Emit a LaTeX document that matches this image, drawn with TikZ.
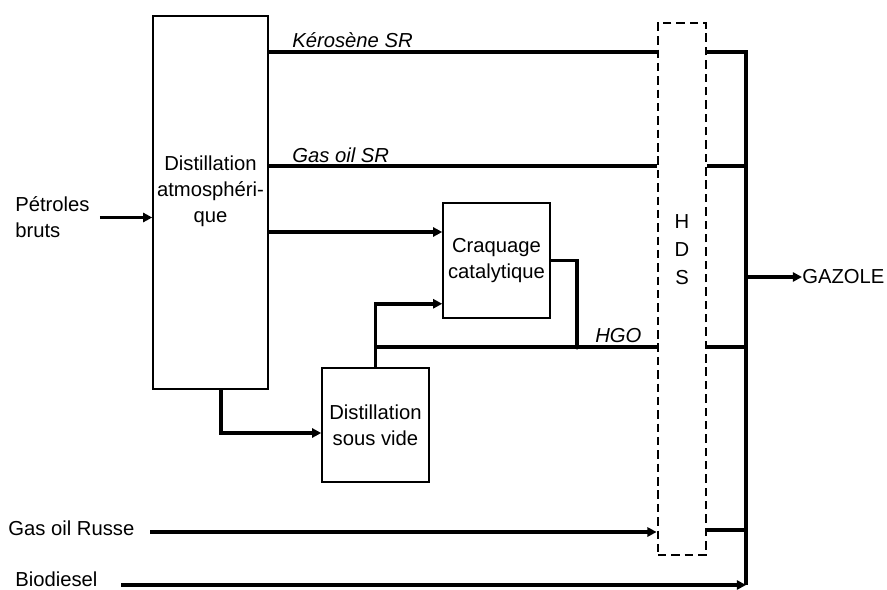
\documentclass[tikz,border=0pt]{standalone}
\usepackage{fontspec}
\setmainfont{Liberation Sans}
\usetikzlibrary{arrows.meta}

\begin{document}
\begin{tikzpicture}[x=0.025cm,y=-0.025cm,
	every node/.style={font=\fontsize{14.4}{18.5}\selectfont,inner sep=0pt},
	box/.style={draw,line width=1.1pt,align=center},
	flow/.style={line width=2.5pt},
	tip/.style={-{Triangle[length=6.5pt,width=6.5pt]}},
	lbl/.style={anchor=base west,font=\fontsize{14.4}{18.5}\selectfont\itshape}]
	\useasboundingbox (0,0) rectangle (887,590);
	% les unites
	\node[box,minimum width=115*0.025cm,minimum height=373*0.025cm] (atm) at (210.5,202.5) {};
	\node[align=center] (atmtxt) at (210.5,191) {Distillation\\atmosphéri-\\que};
	\node[box,minimum width=107*0.025cm,minimum height=115*0.025cm] (cc) at (496.5,260.5) {Craquage\\catalytique};
	\node[box,minimum width=107*0.025cm,minimum height=114*0.025cm] (sv) at (375.5,425) {Distillation\\sous vide};
	\node[draw,line width=2pt,dash pattern=on 6pt off 3.5pt,minimum width=48*0.025cm,minimum height=532*0.025cm] (hds) at (682,289) {};
	\node[align=center] (hdstxt) at (682,250) {H\\[1.5pt]D\\[1.5pt]S};
	% les entrees et la sortie
	\node[anchor=west,align=left] (pb) at (15,217.5) {Pétroles\\bruts};
	\node[anchor=west] (russe) at (8,528) {Gas oil Russe};
	\node[anchor=west] (bio) at (15,579) {Biodiesel};
	\node[anchor=west] (gaz) at (802,277) {GAZOLE};
	\coordinate (russein) at (150,532);
	\coordinate (bioin) at (121,585);
	\coordinate (coltop) at (746,52);
	\coordinate (colbot) at (746,585);
	\coordinate (hgo) at (577,347);
	% les flux
	\draw[flow,tip] (pb.east) ++(10,0) -- (atm.west |- pb.east);
	\draw[flow] (atm.east |- coltop) -- (hds.west |- coltop);
	\draw[flow] (atm.east |- 0,166) -- (hds.west |- 0,166);
	\draw[flow,tip] (atm.east |- 0,232) -- (cc.west |- 0,232);
	\draw[flow,tip] ([xshift=0.26cm]atm.south) |- ([yshift=-0.2cm]sv.west);
	\draw[flow,tip] (sv.north) |- ([yshift=0.375cm]cc.south west);
	\draw[flow] (sv.north |- hgo) -- (hds.west |- hgo);
	\draw[flow] (cc.east) -| (hgo);
	\fill (hgo) circle (2.5);
	\draw[flow,tip] (russein) -- (hds.west |- russein);
	\draw[flow,tip] (bioin) -- (colbot);
	% collecteur
	\draw[flow] (hds.east |- coltop) -- (coltop) -- (colbot);
	\draw[flow] (hds.east |- 0,166) -- (coltop |- 0,166);
	\draw[flow] (hds.east |- hgo) -- (coltop |- hgo);
	\draw[flow] (hds.east |- 0,530) -- (coltop |- 0,530);
	\draw[flow,tip] (coltop |- gaz.west) -- (gaz.west);
	% noms des coupes
	\node[lbl] (kero) at (292,48) {Kérosène SR};
	\node[lbl] (gosr) at (292,163) {Gas oil SR};
	\node[lbl] (hgotxt) at (595,342) {HGO};
\end{tikzpicture}
\end{document}
